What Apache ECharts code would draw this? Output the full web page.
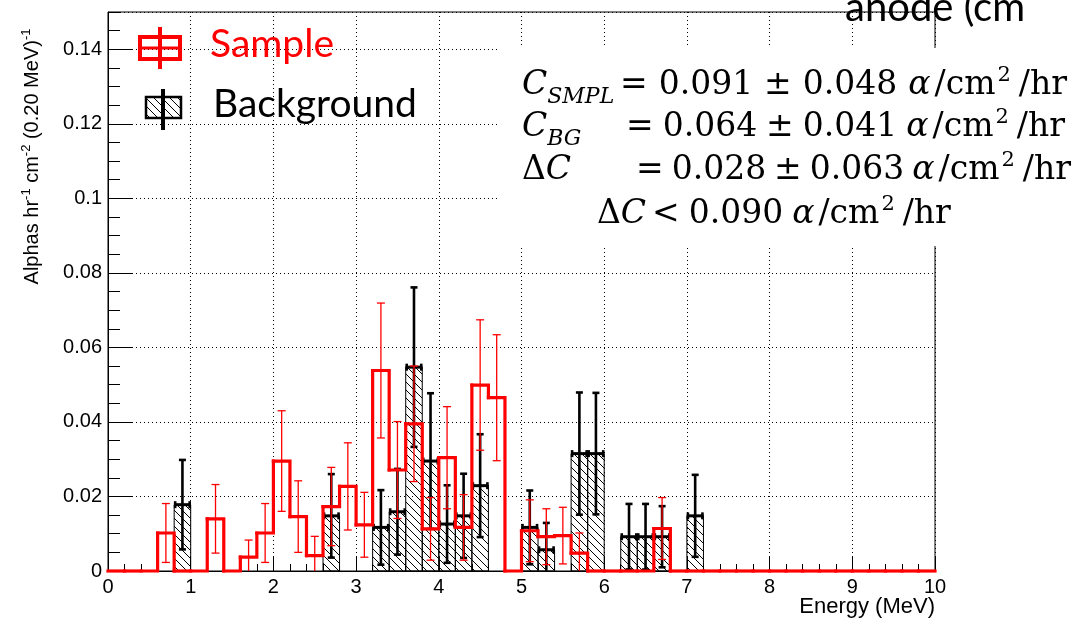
<!DOCTYPE html>
<html><head><meta charset="utf-8">
<script src="https://cdn.jsdelivr.net/npm/echarts@6/dist/echarts.min.js"></script>
<style>html,body{margin:0;padding:0;background:#fff}#c{width:1076px;height:620px}</style>
</head><body><div id="c"></div>
<script>
// ---- data (bins of 0.20 MeV from 0 to 10 MeV) ----
const binWidth = 0.2;
const xTickLabels = [0,1,2,3,4,5,6,7,8,9,10];
const yTickLabels = [0,0.02,0.04,0.06,0.08,0.1,0.12,0.14];
const sampleValues = [
  0,0,0,0.0102,0, 0,0.0140,0,0.0037,0.0102,
  0.0295,0.0146,0.0041,0.0173,0.0227, 0.0124,0.0538,0.0271,0.0395,0.0113,
  0.0304,0.0117,0.0499,0.0465,0, 0.0108,0.0092,0.0095,0.0048,0,
  0,0,0,0.0114,0, 0,0,0,0,0,
  0,0,0,0,0, 0,0,0,0,0];
const sampleErrors = [
  0,0,0,0.0079,0, 0,0.0092,0,0.0046,0.0079,
  0.0135,0.0096,0.0052,0.0105,0.0117, 0.0087,0.0181,0.0130,0.0155,0.0084,
  0.0137,0.0088,0.0175,0.0169,0, 0.0083,0.0075,0.0076,0.0054,0,
  0,0,0,0.0083,0, 0,0,0,0,0,
  0,0,0,0,0, 0,0,0,0,0];
const backgroundValues = [
  0,0,0,0,0.0178, 0,0,0,0,0,
  0,0,0,0.0148,0, 0,0.0117,0.0159,0.0547,0.0295,
  0.0126,0.0148,0.0229,0,0, 0.0117,0.0057,0,0.0315,0.0315,
  0,0.0092,0.0092,0.0092,0, 0.0148,0,0,0,0,
  0,0,0,0,0, 0,0,0,0,0];
const backgroundErrors = [
  0,0,0,0,0.0120, 0,0,0,0,0,
  0,0,0,0.0112,0, 0,0.0100,0.0115,0.0214,0.0182,
  0.0104,0.0113,0.0138,0,0, 0.0099,0.0072,0,0.0164,0.0163,
  0,0.0088,0.0088,0.0082,0, 0.0110,0,0,0,0,
  0,0,0,0,0, 0,0,0,0,0];
const legendNames = ['Sample','Background'];

// ---- derived series data ----
const nBins = sampleValues.length;
const edge = i => +(i*binWidth).toFixed(2);
const stepSegments = [];
for (let i = 0; i < nBins; i++) stepSegments.push([edge(i), edge(i+1), sampleValues[i], i+1<nBins ? sampleValues[i+1] : sampleValues[i]]);
const sampleErrData = [];
sampleValues.forEach((v,i)=>{ if (v>0) sampleErrData.push([+((i+0.5)*binWidth).toFixed(2), v, sampleErrors[i]]); });
const bgData = [];
backgroundValues.forEach((v,i)=>{ if (v>0) bgData.push([edge(i), edge(i+1), v, backgroundErrors[i]]); });

// hatch pattern
function makeHatch(){
  const c = document.createElement('canvas'); c.width = 8; c.height = 8;
  const g = c.getContext('2d'); g.strokeStyle = '#000'; g.lineWidth = 1;
  g.beginPath(); g.moveTo(-1,-1); g.lineTo(9,9); g.moveTo(-1,7); g.lineTo(1,9); g.moveTo(7,-1); g.lineTo(9,1); g.stroke();
  return c;
}
const hatch = {image: makeHatch(), repeat: 'repeat'};

const AX = 'Liberation Sans';
const chart = echarts.init(document.getElementById('c'), null, {renderer:'canvas'});

// formula text pieces, laid out sequentially
const FS = 33;
const SERIF = '"DejaVu Serif"';
const mctx = document.createElement('canvas').getContext('2d');
function fontOf(o){ return (o.italic ? 'italic ' : '') + (o.size || FS) + 'px ' + SERIF; }
function textW(t, f){ mctx.font = f; return mctx.measureText(t).width; }
function T(text, x, base, o){
  o = o || {};
  const size = o.size || FS;
  return {type:'text', z:102, x:x, y: base - 0.32*size,
    style:{text:text, font:fontOf(o), fill:'#000', align:'left', verticalAlign:'middle', textAlign:'left', textVerticalAlign:'middle'}};
}
function run(pieces, x, base){
  const out = []; let cx = x;
  pieces.forEach(p => { const o = p[1] || {}; out.push(T(p[0], cx, base + (o.dy || 0), o)); cx += textW(p[0], fontOf(o)) + (p[2] || 0); });
  return out;
}
const unitRun = [['α',{italic:true},4], ['/cm',{},2], ['2',{size:21,dy:-14},8], ['/hr',{},0]];
function valueRun(n1, n2, g){
  return [['=',{},g], [n1,{},g], ['±',{},g], [n2,{},g]].concat(unitRun);
}
const formula = [].concat(
  run([['C',{italic:true},0], ['SMPL',{italic:true,size:22,dy:8},0]], 522, 96),
  run(valueRun('0.091','0.048',11), 620, 96),
  run([['C',{italic:true},0], ['BG',{italic:true,size:22,dy:8},0]], 522, 138),
  run(valueRun('0.064','0.041',9), 626, 138),
  run([['Δ',{},0], ['C',{italic:true},0]], 522, 181),
  run(valueRun('0.028','0.063',8), 636, 181),
  run([['Δ',{},0], ['C',{italic:true},6], ['<',{},9], ['0.090',{},9]].concat(unitRun), 597, 225)
);

const option = {
  backgroundColor:'#fff',
  animation:false,
  grid:{left:108, right:141, top:12, bottom:49, show:true, borderColor:'#000', borderWidth:1, outerBoundsMode:'none', containLabel:false},
  xAxis:{type:'value', min:xTickLabels[0], max:xTickLabels[xTickLabels.length-1], interval:1,
    name:'Energy (MeV)', nameLocation:'end', nameGap:0, nameMoveOverlap:false,
    nameTextStyle:{fontFamily:AX, fontSize:22, color:'#000', align:'right', verticalAlign:'top', padding:[25,0,0,0]},
    axisLine:{show:true, lineStyle:{color:'#000', width:1}},
    axisTick:{show:true, inside:true, length:14, lineStyle:{color:'#000', width:1}},
    minorTick:{show:true, splitNumber:5, length:7, lineStyle:{color:'#000', width:1}},
    axisLabel:{fontFamily:AX, fontSize:20, color:'#000', margin:6},
    splitLine:{show:true, lineStyle:{color:'#000', type:[1,3], width:1}}},
  yAxis:[{type:'value', min:yTickLabels[0], max:0.15, interval:0.02,
    name:'{a|Alphas hr}{s|-1}{a| cm}{s|-2}{a| (0.20 MeV)}{s|-1}', nameLocation:'middle', nameGap:64, nameMoveOverlap:false,
    nameTextStyle:{fontFamily:AX, fontSize:20, color:'#000', padding:[0,0,0,270],
      rich:{a:{fontFamily:AX, fontSize:20, color:'#000', lineHeight:24, verticalAlign:'middle'},
            s:{fontFamily:AX, fontSize:13, color:'#000', lineHeight:13, verticalAlign:'top'}}},
    axisLine:{show:true, lineStyle:{color:'#000', width:1}},
    axisTick:{show:true, inside:true, length:24, lineStyle:{color:'#000', width:1}},
    axisLabel:{fontFamily:AX, fontSize:20, color:'#000', margin:6, showMaxLabel:false,
      formatter:v => yTickLabels.some(t=>Math.abs(t-v)<1e-9) ? String(+v.toFixed(2)) : ''},
    splitLine:{show:true, lineStyle:{color:'#000', type:[1,3], width:1}}},
   {type:'value', min:0, max:0.15, interval:0.005, position:'left',
    axisLine:{show:false}, axisLabel:{show:false}, splitLine:{show:false},
    axisTick:{show:true, inside:true, length:12, lineStyle:{color:'#000', width:1}}}],
  series:[
    {name:legendNames[1], type:'custom', clip:true, z:2, data:bgData, encode:{x:[0,1], y:2},
      renderItem:(params, api)=>{
        const x0=api.value(0), x1=api.value(1), v=api.value(2), e=api.value(3);
        const a=api.coord([x0,v]), b=api.coord([x1,0]);
        const xc=(a[0]+b[0])/2, yc=a[1];
        const yt=api.coord([x0,v+e])[1], lowV=v-e, yb=api.coord([x0,Math.max(lowV,0)])[1];
        const s={stroke:'#000', lineWidth:2.6};
        const ch=[
          {type:'rect', shape:{x:a[0], y:a[1], width:b[0]-a[0], height:b[1]-a[1]}, style:{fill:hatch, stroke:'#000', lineWidth:1}},
          {type:'line', shape:{x1:xc, y1:yt, x2:xc, y2:yb}, style:s},
          {type:'line', shape:{x1:xc-3.5, y1:yt, x2:xc+3.5, y2:yt}, style:s},
          {type:'line', shape:{x1:a[0], y1:yc, x2:b[0], y2:yc}, style:{stroke:'#000', lineWidth:3}},
          {type:'line', shape:{x1:a[0]+1, y1:yc-3.5, x2:a[0]+1, y2:yc+3.5}, style:s},
          {type:'line', shape:{x1:b[0]-1, y1:yc-3.5, x2:b[0]-1, y2:yc+3.5}, style:s}
        ];
        if (lowV>0) ch.push({type:'line', shape:{x1:xc-3.5, y1:yb, x2:xc+3.5, y2:yb}, style:s});
        return {type:'group', children:ch};
      }},
    {name:legendNames[0], type:'custom', clip:false, z:3, data:stepSegments, encode:{x:[0,1], y:[2,3]},
      renderItem:(params, api)=>{
        const x0=api.value(0), x1=api.value(1), v=api.value(2), vn=api.value(3);
        const p0=api.coord([x0,v]), p1=api.coord([x1,v]), p2=api.coord([x1,vn]);
        return {type:'polyline', shape:{points:[p0,p1,p2]}, style:{stroke:'#ff0000', lineWidth:3.2, fill:'none', lineJoin:'miter', lineCap:'square'}};
      }},
    {name:legendNames[0]+' errors', type:'custom', z:4, data:sampleErrData, encode:{x:0, y:1},
      renderItem:(params, api)=>{
        const x=api.value(0), v=api.value(1), e=api.value(2);
        const p=api.coord([x,v]); const yt=api.coord([x,v+e])[1]; const lowV=v-e; const yb=api.coord([x,Math.max(lowV,0)])[1];
        const s={stroke:'#ff0000', lineWidth:1.3};
        const ch=[
          {type:'line', shape:{x1:p[0], y1:yt, x2:p[0], y2:yb}, style:s},
          {type:'line', shape:{x1:p[0]-4, y1:yt, x2:p[0]+4, y2:yt}, style:s}];
        if (lowV>0) ch.push({type:'line', shape:{x1:p[0]-4, y1:yb, x2:p[0]+4, y2:yb}, style:s});
        return {type:'group', children:ch};
      }}
  ],
  graphic:{elements:[
    // legend: Sample
    {type:'rect', z:110, shape:{x:140, y:37, width:40, height:22}, style:{fill:'none', stroke:'#ff0000', lineWidth:4}},
    {type:'line', z:110, shape:{x1:160, y1:27, x2:160, y2:69}, style:{stroke:'#ff0000', lineWidth:4}},
    {type:'line', z:110, shape:{x1:140, y1:48, x2:180, y2:48}, style:{stroke:'#ff0000', lineWidth:3}},
    {type:'text', z:110, x:210, y:44, style:{text:legendNames[0], font:'39px Lato', fill:'#ff0000', align:'left', verticalAlign:'middle', textAlign:'left', textVerticalAlign:'middle'}},
    // legend: Background
    {type:'rect', z:110, shape:{x:146, y:97, width:35, height:21}, style:{fill:hatch, stroke:'#000', lineWidth:2.5}},
    {type:'line', z:110, shape:{x1:163, y1:89, x2:163, y2:130}, style:{stroke:'#000', lineWidth:4}},
    {type:'text', z:110, x:213, y:104, style:{text:legendNames[1], font:'39px Lato', fill:'#000', align:'left', verticalAlign:'middle', textAlign:'left', textVerticalAlign:'middle'}},
    // formula box
    {type:'rect', z:100, shape:{x:500, y:48, width:576, height:198}, style:{fill:'#fff'}},
    // slide title fragment
    {type:'text', z:100, x:845, y:8, style:{text:'anode (cm', font:'40px Lato', fill:'#000', align:'left', verticalAlign:'middle', textAlign:'left', textVerticalAlign:'middle'}}
  ].concat(formula)}
};
chart.setOption(option);
</script>
</body></html>
